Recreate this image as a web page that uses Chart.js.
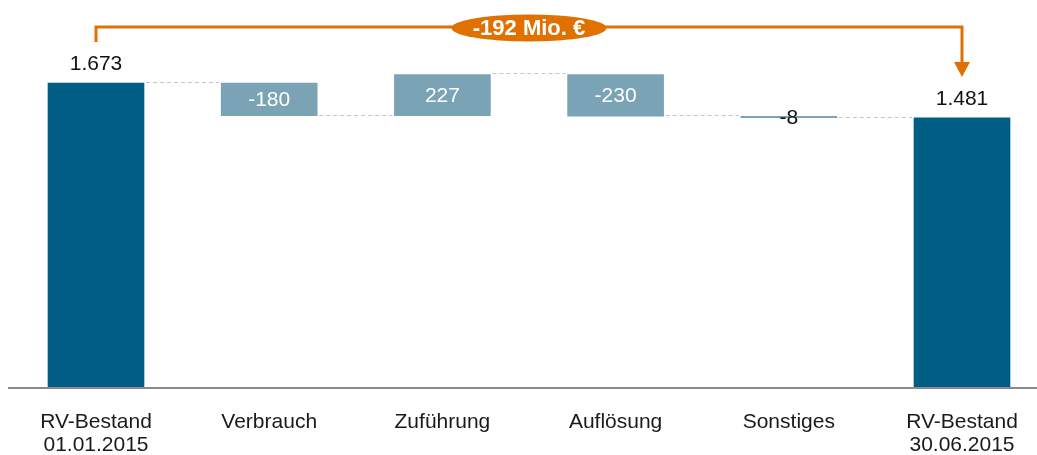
<!DOCTYPE html>
<html><head><meta charset="utf-8">
<script src="https://cdn.jsdelivr.net/npm/chart.js@4/dist/chart.umd.min.js"></script>
<style>html,body{margin:0;padding:0;background:#fff;overflow:hidden}#wrap{width:1037px;height:455px;position:relative}</style>
</head><body><div id="wrap"><canvas id="c"></canvas></div>
<script>
// ---- data ----
const categories = [['RV-Bestand','01.01.2015'], 'Verbrauch', 'Zuführung', 'Auflösung', 'Sonstiges', ['RV-Bestand','30.06.2015']];
const startValue = 1673;
const changes = [-180, 227, -230, -8];
const endValue = 1481;
const unitLabel = 'Mio. €';

// ---- derived ----
const ranges = [[0, startValue]];
const levels = [startValue];
let run = startValue;
changes.forEach(d => { ranges.push([run, run + d]); run += d; levels.push(run); });
ranges.push([0, endValue]);
const rawValues = [startValue, ...changes, endValue];
function fmt(v){
  const s = Math.abs(v).toString().replace(/\B(?=(\d{3})+(?!\d))/g, '.');
  return (v < 0 ? '-' : '') + s;
}
const DARK = '#005e86', LIGHT = '#7aa4b5', ORANGE = '#e07000';
const colors = rawValues.map((v,i) => (i === 0 || i === rawValues.length-1) ? DARK : LIGHT);
const FONT = 'Arial, "Liberation Sans", sans-serif';
Chart.defaults.font.family = FONT;

const overlay = {
  id: 'overlay',
  afterDatasetsDraw(chart){
    const ctx = chart.ctx;
    const meta = chart.getDatasetMeta(0);
    const y = chart.scales.y;
    ctx.save();
    // baseline
    const y0 = y.getPixelForValue(0);
    ctx.strokeStyle = '#8a8a8a'; ctx.lineWidth = 2;
    ctx.beginPath(); ctx.moveTo(8, y0 + 1); ctx.lineTo(chart.width, y0 + 1); ctx.stroke();
    // connectors
    ctx.strokeStyle = '#c4c4c4'; ctx.lineWidth = 1; ctx.setLineDash([4,3]);
    for (let i = 0; i < meta.data.length - 1; i++){
      const a = meta.data[i], b = meta.data[i+1];
      const ly = Math.round(y.getPixelForValue(levels[i])) - 0.5;
      ctx.beginPath();
      ctx.moveTo(a.x + a.width/2 + 2, ly);
      ctx.lineTo(b.x - b.width/2 - 2, ly);
      ctx.stroke();
    }
    ctx.setLineDash([]);
    // value labels
    ctx.font = '21px ' + FONT; ctx.textAlign = 'center'; ctx.textBaseline = 'middle';
    meta.data.forEach((bar, i) => {
      const top = Math.min(bar.y, bar.base), bot = Math.max(bar.y, bar.base);
      const isTotal = (i === 0 || i === meta.data.length - 1);
      if (isTotal){
        ctx.fillStyle = '#111';
        ctx.fillText(fmt(rawValues[i]), bar.x, top - 19);
      } else if (bot - top > 22){
        ctx.fillStyle = '#ffffff';
        ctx.fillText(fmt(rawValues[i]), bar.x, (top + bot)/2 + 1);
      } else {
        ctx.fillStyle = '#111';
        ctx.fillText(fmt(rawValues[i]), bar.x, (top + bot)/2 + 1);
      }
    });
    // bracket with arrow
    const first = meta.data[0], last = meta.data[meta.data.length - 1];
    const lEnd = Math.min(first.y, first.base) - 41;
    const rEnd = Math.min(last.y, last.base) - 41;
    const by = Math.min(lEnd, rEnd) - 15;
    ctx.strokeStyle = ORANGE; ctx.fillStyle = ORANGE; ctx.lineWidth = 3;
    ctx.beginPath();
    ctx.moveTo(first.x, lEnd); ctx.lineTo(first.x, by); ctx.lineTo(last.x, by); ctx.lineTo(last.x, rEnd - 14);
    ctx.stroke();
    ctx.beginPath();
    ctx.moveTo(last.x - 8, rEnd - 15); ctx.lineTo(last.x + 8, rEnd - 15); ctx.lineTo(last.x, rEnd); ctx.closePath(); ctx.fill();
    // ellipse label
    const cx = (first.x + last.x)/2;
    ctx.beginPath(); ctx.ellipse(cx, by + 1, 77.5, 13.5, 0, 0, Math.PI*2); ctx.fill();
    ctx.fillStyle = '#fff'; ctx.font = 'bold 22px ' + FONT;
    ctx.fillText(fmt(endValue - startValue) + ' ' + unitLabel, cx, by + 2);
    ctx.restore();
  }
};

new Chart(document.getElementById('c'), {
  type: 'bar',
  data: { labels: categories, datasets: [{ data: ranges, backgroundColor: colors, borderWidth: 0, barThickness: 96, clip: false }] },
  options: {
    responsive: true, maintainAspectRatio: false, animation: false,
    layout: { padding: { left: 96, right: 75, top: 0, bottom: 0 } },
    plugins: { legend: { display: false }, tooltip: { enabled: false } },
    scales: {
      x: { type: 'category', offset: false,
           grid: { display: false, drawTicks: false }, border: { display: false },
           afterFit(scale){ scale.height = 68; scale.paddingLeft = 0; scale.paddingRight = 0; },
           ticks: { padding: 24, maxRotation: 0, autoSkip: false, color: '#1a1a1a', font: { size: 21, lineHeight: 1.1 } } },
      y: { display: false, min: 0, max: 2130 }
    }
  },
  plugins: [overlay]
});
</script></body></html>
